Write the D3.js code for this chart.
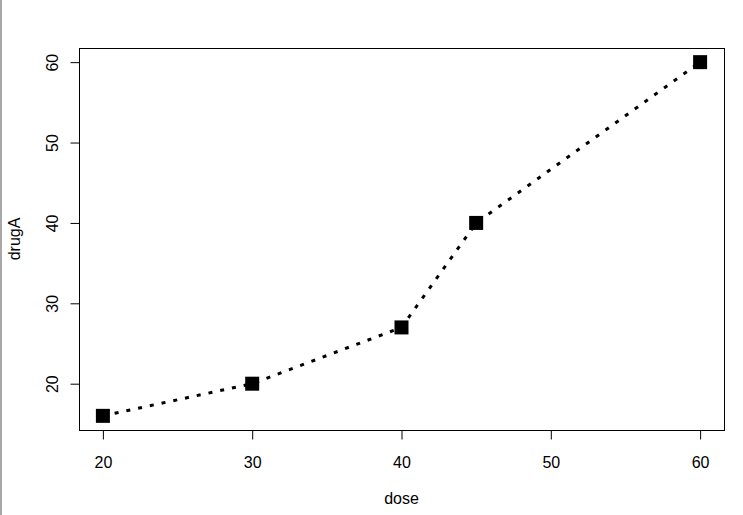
<!DOCTYPE html>
<html>
<head>
<meta charset="utf-8">
<script src="https://cdn.jsdelivr.net/npm/d3@7"></script>
<style>
    body { margin: 0; background: #fff; }
    svg { display: block; }
    text { font-family: "Liberation Sans", Arial, sans-serif; fill: #000; }
</style>
</head>
<body>
<div id="chart"></div>
<script>
// data
var dose = [20, 30, 40, 45, 60];
var drugA = [16, 20, 27, 40, 60];
var xTicks = [20, 30, 40, 50, 60];
var yTicks = [20, 30, 40, 50, 60];

var width = 743, height = 515;
// plot box (R style)
var box = { left: 79, right: 724, top: 48, bottom: 430 };

var svg = d3.select("#chart")
    .append("svg")
    .attr("width", width)
    .attr("height", height);

// gray edge on the left of the window
svg.append("rect")
    .attr("x", 0).attr("y", 0)
    .attr("width", 2).attr("height", height)
    .attr("fill", "#a8a8a8");

// R extends the range by 4% on each side
function padded(arr) {
    var lo = d3.min(arr), hi = d3.max(arr);
    var pad = (hi - lo) * 0.04;
    return [lo - pad, hi + pad];
}

var x = d3.scaleLinear().domain(padded(dose)).range([box.left, box.right]);
var y = d3.scaleLinear().domain(padded(drugA)).range([box.bottom, box.top]);

var points = dose.map(function(d, i) { return { x: d, y: drugA[i] }; });

// dashed line joining the points
var line = d3.line()
    .x(function(d) { return x(d.x); })
    .y(function(d) { return y(d.y); });

svg.append("path")
    .datum(points)
    .attr("d", line)
    .attr("fill", "none")
    .attr("stroke", "#000")
    .attr("stroke-width", 3)
    .attr("stroke-dasharray", "4,8");

// filled square markers
var s = 14;
svg.selectAll("rect.pt")
    .data(points)
    .enter()
    .append("rect")
    .attr("class", "pt")
    .attr("x", function(d) { return x(d.x) - s / 2; })
    .attr("y", function(d) { return y(d.y) - s / 2; })
    .attr("width", s)
    .attr("height", s)
    .attr("fill", "#000");

// frame
svg.append("rect")
    .attr("x", box.left + 0.5)
    .attr("y", box.top + 0.5)
    .attr("width", box.right - box.left)
    .attr("height", box.bottom - box.top)
    .attr("fill", "none")
    .attr("stroke", "#000")
    .attr("stroke-width", 1);

// x axis
var xAxis = svg.append("g")
    .attr("transform", "translate(0," + (box.bottom + 0.5) + ")")
    .call(d3.axisBottom(x).tickValues(xTicks).tickSize(9).tickSizeOuter(0).tickPadding(17));
xAxis.select(".domain").remove();
xAxis.selectAll("line").attr("stroke", "#000");
xAxis.selectAll("text")
    .style("font-size", "16px")
    .style("font-family", "Liberation Sans, Arial, sans-serif")
    .attr("fill", "#000");

// y axis, labels turned like R's las=0
var yAxis = svg.append("g")
    .attr("transform", "translate(" + (box.left + 0.5) + ",0)")
    .call(d3.axisLeft(y).tickValues(yTicks).tickSize(9).tickSizeOuter(0));
yAxis.select(".domain").remove();
yAxis.selectAll("line").attr("stroke", "#000");
yAxis.selectAll("text")
    .attr("x", null).attr("dy", null)
    .attr("text-anchor", "middle")
    .attr("transform", "translate(-22,0) rotate(-90)")
    .style("font-size", "16px")
    .style("font-family", "Liberation Sans, Arial, sans-serif")
    .attr("fill", "#000");

// axis titles
svg.append("text")
    .attr("x", (box.left + box.right) / 2)
    .attr("y", 504)
    .attr("text-anchor", "middle")
    .style("font-size", "16px")
    .text("dose");

svg.append("text")
    .attr("transform", "translate(20," + (box.top + box.bottom) / 2 + ") rotate(-90)")
    .attr("text-anchor", "middle")
    .style("font-size", "16px")
    .text("drugA");
</script>
</body>
</html>
